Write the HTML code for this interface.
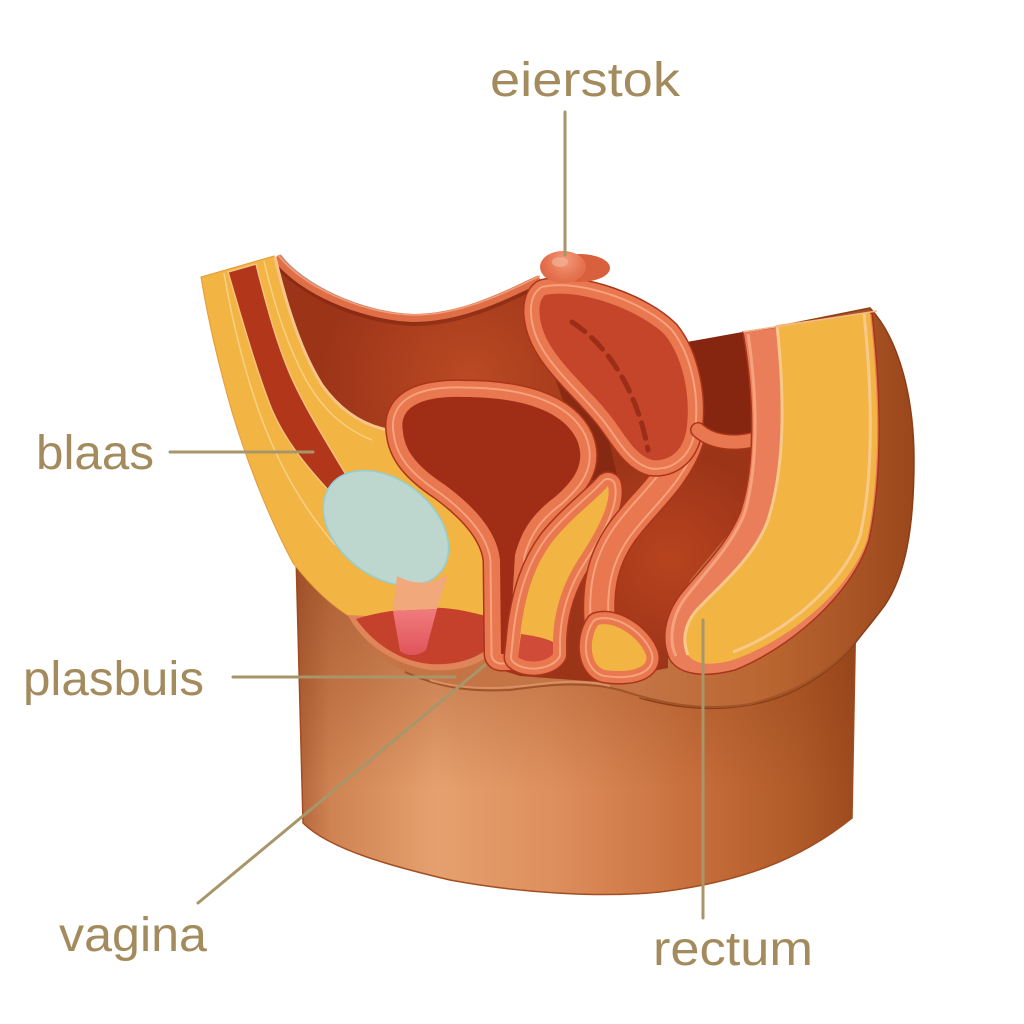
<!DOCTYPE html>
<html><head><meta charset="utf-8"><style>
html,body{margin:0;padding:0;background:#fff;}
svg{display:block;}
</style></head><body>
<svg width="1024" height="1024" viewBox="0 0 1024 1024" xmlns="http://www.w3.org/2000/svg">
<defs>
  <linearGradient id="cyl" x1="297" y1="0" x2="856" y2="0" gradientUnits="userSpaceOnUse">
    <stop offset="0" stop-color="#b2643a"/>
    <stop offset="0.06" stop-color="#cf8352"/>
    <stop offset="0.25" stop-color="#e6a06f"/>
    <stop offset="0.45" stop-color="#de905e"/>
    <stop offset="0.7" stop-color="#c8703d"/>
    <stop offset="0.9" stop-color="#b05a28"/>
    <stop offset="1" stop-color="#9c4a1e"/>
  </linearGradient>
  <linearGradient id="cylshade" x1="0" y1="560" x2="0" y2="790" gradientUnits="userSpaceOnUse">
    <stop offset="0" stop-color="#8a3a14" stop-opacity="0.5"/>
    <stop offset="0.55" stop-color="#8a3a14" stop-opacity="0.25"/>
    <stop offset="1" stop-color="#8a3a14" stop-opacity="0"/>
  </linearGradient>
  <linearGradient id="butt" x1="640" y1="0" x2="918" y2="0" gradientUnits="userSpaceOnUse">
    <stop offset="0" stop-color="#c47445"/>
    <stop offset="0.5" stop-color="#b8642f"/>
    <stop offset="1" stop-color="#9a461c"/>
  </linearGradient>
  <radialGradient id="bw1" cx="470" cy="380" r="150" gradientUnits="userSpaceOnUse">
    <stop offset="0" stop-color="#bb4a24"/>
    <stop offset="1" stop-color="#bb4a24" stop-opacity="0"/>
  </radialGradient>
  <radialGradient id="bw2" cx="670" cy="560" r="110" gradientUnits="userSpaceOnUse">
    <stop offset="0" stop-color="#b8431f"/>
    <stop offset="1" stop-color="#b8431f" stop-opacity="0"/>
  </radialGradient>
  <radialGradient id="ov" cx="565" cy="260" r="40" gradientUnits="userSpaceOnUse">
    <stop offset="0" stop-color="#f29a7a"/>
    <stop offset="0.5" stop-color="#e4704c"/>
    <stop offset="1" stop-color="#d45a38"/>
  </radialGradient>
  <linearGradient id="ure" x1="0" y1="610" x2="0" y2="655" gradientUnits="userSpaceOnUse">
    <stop offset="0" stop-color="#f07a7c"/>
    <stop offset="1" stop-color="#e0545a"/>
  </linearGradient>

  <path id="CYL" d="M 296,555 L 303,823 C 330,850 395,867 450,880 C 520,893 600,898 660,892 C 740,882 800,860 852,818 L 856,600 Z"/>
  <path id="BW" d="M 273,258 C 300,290 360,318 413,320 C 460,320 500,300 537,282 L 600,330 L 685,365 L 687,342 L 760,330 L 760,480 L 740,520 L 690,580 L 668,630 L 668,668 L 600,682 L 520,676 L 495,668 L 492,600 L 400,560 L 330,460 Z"/>
  <path id="B" d="M 403,432 C 398,405 425,396 463,397 C 520,397 563,410 577,440 C 587,465 572,482 555,497 C 535,512 522,528 515,555 L 509,654 L 501,654 L 500,560 C 497,530 472,505 445,485 C 418,467 405,452 403,432 Z"/>
  <path id="T1" d="M 608,486 C 612,502 598,530 578,560 C 562,585 554,612 553,640 L 553,654 C 546,663 526,664 518,657 L 521,628 C 526,592 535,565 552,542 C 572,517 598,498 608,486 Z"/>
  <path id="T2" d="M 688,440 C 675,480 640,505 620,535 C 602,562 597,590 600,625"/>
  <path id="BU" d="M 598,625 C 615,620 640,638 646,655 C 650,670 625,673 605,670 C 590,666 588,640 598,625 Z"/>
  <path id="U" d="M 545,295 C 580,288 640,310 665,335 C 685,360 690,400 687,425 C 685,450 670,462 652,460 C 635,455 625,435 612,418 C 595,395 565,370 550,345 C 538,325 536,302 545,295 Z"/>
</defs>

<!-- cylinder body -->
<use href="#CYL" fill="url(#cyl)" stroke="#a34e22" stroke-width="1.5"/>
<use href="#CYL" fill="url(#cylshade)"/>

<!-- buttock (extends down to crease) -->
<path d="M 870,308 C 900,340 914,400 914,460 C 914,530 905,575 885,605 C 870,625 862,634 856,642 C 835,668 800,695 755,704 C 715,712 675,708 640,698 L 640,600 L 760,330 Z" fill="url(#butt)" stroke="#8c3e16" stroke-width="1.5"/>

<!-- perineum -->
<path d="M 345,612 L 645,600 L 645,699 C 615,690 595,683 570,682 C 540,683 510,690 480,690 C 455,689 430,683 405,672 C 375,655 360,635 345,612 Z" fill="#c47445"/>
<path d="M 405,672 C 440,688 470,692 510,690 C 540,686 580,680 620,690 C 660,703 700,712 750,704 C 800,692 840,665 858,636" fill="none" stroke="#a0542a" stroke-width="2"/>
<path d="M 430,680 C 470,692 510,688 540,684 C 570,680 595,682 610,686" fill="none" stroke="#d89064" stroke-width="2"/>

<!-- back wall cavity -->
<use href="#BW" fill="#9c3418"/>
<use href="#BW" fill="url(#bw1)"/>
<use href="#BW" fill="url(#bw2)"/>
<path d="M 687,342 L 748,331 L 752,440 L 700,428 Z" fill="#862510"/>
<path d="M 545,350 L 600,400 L 618,480 L 590,480 L 570,420 Z" fill="#7e2410" opacity="0.7"/>
<!-- top rim -->
<path d="M 276,258 C 300,290 360,318 413,320 C 460,320 500,300 540,281" fill="none" stroke="#7a220e" stroke-width="12" opacity="0.5"/>
<path d="M 276,257 C 300,289 360,316 413,318 C 460,318 500,298 540,279" fill="none" stroke="#e06f48" stroke-width="8"/>
<path d="M 278,255 C 302,286 360,313 413,315 C 460,315 500,295 540,276" fill="none" stroke="#f3a07a" stroke-width="1.5"/>

<!-- left wall yellow -->
<path d="M 201,277 L 274,256 C 285,300 300,350 322,385 C 340,410 362,425 388,430 C 420,470 470,495 490,525 C 498,545 498,600 496,622 C 480,620 470,618 455,617 C 420,612 390,615 352,618 C 330,605 310,585 293,563 C 270,520 248,465 232,412 C 220,370 208,320 201,277 Z" fill="#f2b443" stroke="#e49a3a" stroke-width="1"/>
<path d="M 224,273 C 232,320 246,380 266,430 C 282,470 305,510 335,545" fill="none" stroke="#f9cf86" stroke-width="1.5"/>
<!-- red stripe -->
<path d="M 228,272 L 256,264 C 265,300 278,350 295,385 C 308,412 325,440 348,478 L 330,492 C 305,465 285,440 272,410 C 258,375 245,330 228,272 Z" fill="#b2361a" stroke="#f6c27c" stroke-width="1.5"/>
<path d="M 264,261 C 273,300 287,345 306,380 C 322,408 342,428 372,440" fill="none" stroke="#f9cf86" stroke-width="1.5"/>
<path d="M 275,257 C 285,300 300,350 322,385 C 340,410 362,425 388,430" fill="none" stroke="#f7c48a" stroke-width="3"/>

<!-- lower left red perineal region -->
<path d="M 348,615 C 360,640 390,664 430,670 C 460,672 480,665 495,650 L 496,622 Z" fill="#e0845a"/>
<path d="M 356,619 C 375,613 393,610 420,608 C 450,606 470,612 494,618 L 495,642 C 482,657 458,666 430,664 C 400,661 375,645 356,619 Z" fill="#c6412c"/>
<!-- blue ellipse -->
<ellipse cx="386" cy="528" rx="70" ry="48" transform="rotate(38 386 528)" fill="#bdd7cf" stroke="#8fd0da" stroke-width="1.5"/>
<!-- urethra -->
<path d="M 397,576 C 415,586 435,584 448,574 L 437,609 L 393,611 Z" fill="#f1a87a"/>
<path d="M 393,611 L 437,609 L 426,650 C 418,657 405,656 400,651 Z" fill="url(#ure)"/>

<!-- bladder -->
<use href="#B" fill="none" stroke="#a9361b" stroke-width="35" stroke-linejoin="round"/>
<use href="#B" fill="none" stroke="#e9774f" stroke-width="32" stroke-linejoin="round"/>
<use href="#B" fill="none" stroke="#f6a27c" stroke-width="21" stroke-linejoin="round"/>
<use href="#B" fill="none" stroke="#e9774f" stroke-width="17" stroke-linejoin="round"/>
<use href="#B" fill="#a02e17"/>

<!-- T1 tube -->
<use href="#T1" fill="none" stroke="#a9361b" stroke-width="29" stroke-linejoin="round"/>
<use href="#T1" fill="none" stroke="#e9774f" stroke-width="26" stroke-linejoin="round"/>
<use href="#T1" fill="none" stroke="#f6a27c" stroke-width="16" stroke-linejoin="round"/>
<use href="#T1" fill="none" stroke="#e9774f" stroke-width="12" stroke-linejoin="round"/>
<use href="#T1" fill="#f2b443"/>
<path d="M 521,634 C 535,636 545,638 553,642 L 553,654 C 546,663 526,664 518,657 Z" fill="#d04c38"/>

<!-- T2 tube -->
<use href="#T2" fill="none" stroke="#a9361b" stroke-width="33" stroke-linecap="round"/>
<use href="#T2" fill="none" stroke="#e9774f" stroke-width="30" stroke-linecap="round"/>
<use href="#T2" fill="none" stroke="#f6a27c" stroke-width="20" stroke-linecap="round"/>
<use href="#T2" fill="none" stroke="#e9774f" stroke-width="16" stroke-linecap="round"/>
<!-- bulb -->
<use href="#BU" fill="none" stroke="#a9361b" stroke-width="27" stroke-linejoin="round"/>
<use href="#BU" fill="none" stroke="#e9774f" stroke-width="24" stroke-linejoin="round"/>
<use href="#BU" fill="none" stroke="#f6a27c" stroke-width="14" stroke-linejoin="round"/>
<use href="#BU" fill="none" stroke="#e9774f" stroke-width="10" stroke-linejoin="round"/>
<use href="#BU" fill="#f2b443"/>

<!-- uterus -->
<use href="#U" fill="none" stroke="#a9361b" stroke-width="33" stroke-linejoin="round"/>
<use href="#U" fill="none" stroke="#e9774f" stroke-width="30" stroke-linejoin="round"/>
<use href="#U" fill="none" stroke="#f6a27c" stroke-width="19" stroke-linejoin="round"/>
<use href="#U" fill="none" stroke="#e9774f" stroke-width="15" stroke-linejoin="round"/>
<use href="#U" fill="#c4452a"/>
<path d="M 572,322 C 600,340 635,380 648,450" fill="none" stroke="#9c2e18" stroke-width="5" stroke-dasharray="16 9" stroke-linecap="round"/>
<!-- membrane -->
<path d="M 698,430 C 710,441 730,445 752,440" fill="none" stroke="#a9361b" stroke-width="16" stroke-linecap="round"/>
<path d="M 698,430 C 710,441 730,445 752,440" fill="none" stroke="#e9774f" stroke-width="13" stroke-linecap="round"/>

<!-- rectum pink band -->
<path d="M 743,332 L 872,313 C 882,400 882,480 869,540 C 852,595 790,648 735,670 C 705,678 680,675 670,660 C 660,640 665,615 680,595 C 700,570 727,545 740,513 C 755,470 755,400 743,332 Z" fill="#ea7e5a" stroke="#a9361b" stroke-width="1.5"/>
<path d="M 748,334 C 758,400 758,470 744,515 C 730,548 705,572 686,597 C 672,615 668,640 676,656" fill="none" stroke="#f6a27c" stroke-width="3"/>
<!-- sacrum yellow -->
<path d="M 777,325 L 870,312 C 880,400 880,480 867,540 C 850,590 790,640 733,660 C 712,666 695,665 688,655 C 682,640 685,625 695,612 C 720,585 752,560 767,523 C 785,470 785,400 777,325 Z" fill="#f2b443"/>
<path d="M 777,325 C 785,400 785,470 767,523 C 752,560 720,585 695,612 C 685,625 682,640 688,655" fill="none" stroke="#f8c98a" stroke-width="3"/>
<path d="M 864,313 C 873,400 873,480 860,536 C 843,584 786,632 733,652" fill="none" stroke="#f8c98a" stroke-width="3"/>
<path d="M 743,332 L 877,311" fill="none" stroke="#f4b88a" stroke-width="1.5"/>

<!-- ovary -->
<ellipse cx="580" cy="268" rx="30" ry="14" fill="#d9603c"/>
<ellipse cx="563" cy="267" rx="23" ry="16" fill="url(#ov)"/>
<ellipse cx="560" cy="262" rx="8" ry="5" fill="#f6b094" opacity="0.7"/>

<!-- leader lines -->
<g stroke="#a8966a" stroke-width="3" stroke-linecap="round" fill="none">
  <line x1="565" y1="112" x2="565" y2="255"/>
  <line x1="170" y1="452" x2="313" y2="452"/>
  <line x1="233" y1="677" x2="455" y2="677"/>
  <line x1="198" y1="903" x2="485" y2="665"/>
  <line x1="703" y1="620" x2="703" y2="918"/>
</g>

<!-- labels -->
<g font-family="'Liberation Sans', 'DejaVu Sans', sans-serif" font-size="48" fill="#a38b5e">
  <text x="490" y="96" textLength="190" lengthAdjust="spacingAndGlyphs">eierstok</text>
  <text x="36" y="469" textLength="118" lengthAdjust="spacingAndGlyphs">blaas</text>
  <text x="23" y="695" textLength="181" lengthAdjust="spacingAndGlyphs">plasbuis</text>
  <text x="59" y="951" textLength="148" lengthAdjust="spacingAndGlyphs">vagina</text>
  <text x="653" y="965" textLength="160" lengthAdjust="spacingAndGlyphs">rectum</text>
</g>
</svg>
</body></html>
